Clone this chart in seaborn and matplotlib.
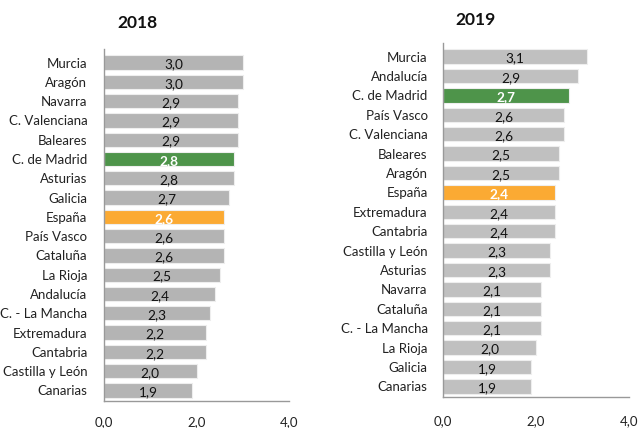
import matplotlib
matplotlib.use("Agg")
import matplotlib.pyplot as plt
import seaborn as sns
import pandas as pd

cats_2018 = ["Murcia", "Aragón", "Navarra", "C. Valenciana", "Baleares", "C. de Madrid",
             "Asturias", "Galicia", "España", "País Vasco", "Cataluña", "La Rioja",
             "Andalucía", "C. - La Mancha", "Extremadura", "Cantabria", "Castilla y León", "Canarias"]
vals_2018 = [3.0, 3.0, 2.9, 2.9, 2.9, 2.8, 2.8, 2.7, 2.6, 2.6, 2.6, 2.5, 2.4, 2.3, 2.2, 2.2, 2.0, 1.9]

cats_2019 = ["Murcia", "Andalucía", "C. de Madrid", "País Vasco", "C. Valenciana", "Baleares",
             "Aragón", "España", "Extremadura", "Cantabria", "Castilla y León", "Asturias",
             "Navarra", "Cataluña", "C. - La Mancha", "La Rioja", "Galicia", "Canarias"]
vals_2019 = [3.1, 2.9, 2.7, 2.6, 2.6, 2.5, 2.5, 2.4, 2.4, 2.4, 2.3, 2.3, 2.1, 2.1, 2.1, 2.0, 1.9, 1.9]

x_ticks = [0, 2, 4]
x_ticklabels = ["0,0", "2,0", "4,0"]

sns.set_theme(style="white")
plt.rcParams['font.family'] = ['Lato', 'DejaVu Sans']

W, H = 639, 428
fig = plt.figure(figsize=(W / 100, H / 100), dpi=100)

GREEN = "#4E944A"
ORANGE = "#FBAA33"

def px_axes(x0, y0, x1, y1):
    return fig.add_axes([x0 / W, 1 - y1 / H, (x1 - x0) / W, (y1 - y0) / H])

def draw(ax, cats, vals, gray, pad, ypad):
    df = pd.DataFrame({"cat": cats, "val": vals})
    colors = {c: (GREEN if c == "C. de Madrid" else ORANGE if c == "España" else gray) for c in cats}
    sns.barplot(data=df, x="val", y="cat", hue="cat", palette=colors, legend=False,
                width=0.74, ax=ax, edgecolor="#EEEEEE", linewidth=0.8, saturation=1)
    ax.set_xlim(0, 4)
    ax.set_ylim(len(cats) - 0.45, -0.7)
    ax.set_xticks(x_ticks)
    ax.set_xticklabels(x_ticklabels)
    ax.set_xlabel("")
    ax.set_ylabel("")
    ax.tick_params(axis="x", length=0, pad=pad, labelsize=9.5, colors="#222222")
    ax.tick_params(axis="y", length=0, pad=ypad, labelsize=9.5, colors="#222222")
    for s in ["top", "right"]:
        ax.spines[s].set_visible(False)
    for s in ["left", "bottom"]:
        ax.spines[s].set_color("#999999")
        ax.spines[s].set_linewidth(1)
    for i, (c, v) in enumerate(zip(cats, vals)):
        special = c in ("C. de Madrid", "España")
        ax.text(v / 2, i + 0.1, f"{v:.1f}".replace(".", ","), ha="center", va="center",
                fontsize=9.8, color="white" if special else "#111111",
                fontweight="bold" if special else "normal")

ax1 = px_axes(104, 49, 289, 401)
draw(ax1, cats_2018, vals_2018, "#B4B4B4", 11, 12)

ax2 = px_axes(443, 43, 629, 397)
draw(ax2, cats_2019, vals_2019, "#C0C0C0", 13, 11)

fig.text(137 / W, 1 - 23 / H, "2018", ha="center", va="center", fontsize=12.5, fontweight="bold", color="#111111")
fig.text(476 / W, 1 - 20 / H, "2019", ha="center", va="center", fontsize=12.5, fontweight="bold", color="#111111")

fig.savefig("out.png", dpi=100)
